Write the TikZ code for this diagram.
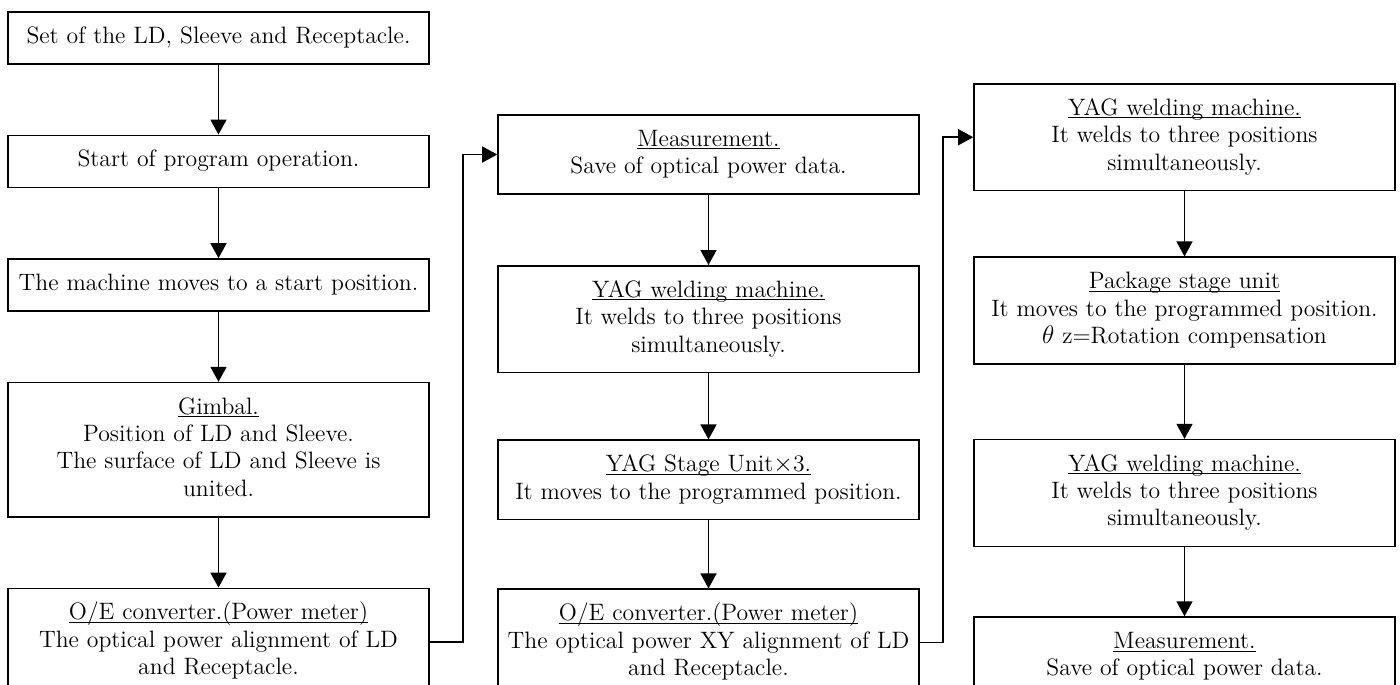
\documentclass[tikz,border=0pt]{standalone}
\usepackage{tikz}
\usetikzlibrary{positioning,arrows.meta}
\newcommand{\boxtitle}[1]{\underline{\smash{#1}}}

\begin{document}
\begin{tikzpicture}
\tikzstyle{block}=[rectangle, draw=black, line width=0.9pt, text width=8.42cm, inner xsep=0pt, inner ysep=7pt, align=center, font=\fontsize{13.5}{15.6}\selectfont, execute at begin node=\strut, execute at end node=\strut, node distance=1.4cm]
\tikzstyle{connect}=[-{Triangle[length=3mm,width=3.2mm]}, line width=0.9pt]
\useasboundingbox (0,0) rectangle (28,-13.68);
\clip (0,0) rectangle (28,-13.68);
  \node[block, anchor=north] (set) at (4.37,-0.22) {Set of the LD, Sleeve and Receptacle.};
  \node[block] (start) [below =of set] {Start of program operation.};
  \node[block] (home) [below =of start] {The machine moves to a start position.};
  \node[block] (gimbal) [below =of home] {\boxtitle{Gimbal.}\\ Position of LD and Sleeve.\\ The surface of LD and Sleeve is\\ united.};
  \node[block] (oe1) [below =of gimbal] {\boxtitle{O/E converter.(Power meter)}\\ The optical power alignment of LD\\ and Receptacle.};
  \node[block, anchor=north] (meas1) at (14.17,-2.28) {\boxtitle{Measurement.}\\ Save of optical power data.};
  \node[block] (weld1) [below =of meas1] {\boxtitle{YAG welding machine.}\\ It welds to three positions\\ simultaneously.};
  \node[block] (yagstage) [below =1.32cm of weld1] {\boxtitle{YAG Stage Unit$\times$3.}\\ It moves to the programmed position.};
  \node[block] (oe2) [below =1.36cm of yagstage] {\boxtitle{O/E converter.(Power meter)}\\ The optical power XY alignment of LD\\ and Receptacle.};
  \node[block, anchor=north] (weld2) at (23.69,-1.66) {\boxtitle{YAG welding machine.}\\ It welds to three positions\\ simultaneously.};
  \node[block] (pkg) [below =1.3cm of weld2] {\boxtitle{Package stage unit}\\ It moves to the programmed position.\\ $\theta$ z=Rotation compensation};
  \node[block] (weld3) [below =1.48cm of pkg] {\boxtitle{YAG welding machine.}\\ It welds to three positions\\ simultaneously.};
  \node[block] (meas2) [below =1.38cm of weld3] {\boxtitle{Measurement.}\\ Save of optical power data.};
  \path (set) edge[connect] (start)
        (start) edge[connect] (home)
        (home) edge[connect] (gimbal)
        (gimbal) edge[connect] (oe1)
        (meas1) edge[connect] (weld1)
        (weld1) edge[connect] (yagstage)
        (yagstage) edge[connect] (oe2)
        (weld2) edge[connect] (pkg)
        (pkg) edge[connect] (weld3)
        (weld3) edge[connect] (meas2)
        ;
  \draw[connect] (oe1.east) -- ++(0.66,0) |- (meas1.west);
  \draw[connect] (oe2.east) -- ++(0.46,0) |- (weld2.west);
\end{tikzpicture}
\end{document}
